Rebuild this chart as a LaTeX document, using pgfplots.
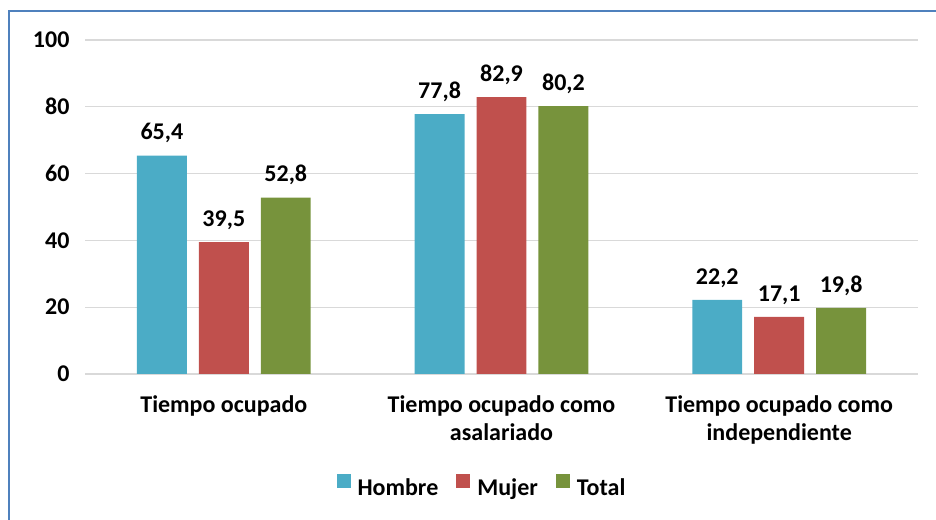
\documentclass[border=0pt]{standalone}
\usepackage{fontspec}
\setmainfont{Carlito}
\usepackage{pgfplots}
\pgfplotsset{compat=1.18}
\definecolor{hombre}{RGB}{75,172,198}
\definecolor{mujer}{RGB}{192,80,77}
\definecolor{total}{RGB}{119,147,60}
\definecolor{frameblue}{RGB}{79,129,189}
\definecolor{gridgray}{RGB}{217,217,217}
\newcommand\lbl{\fontsize{24}{28}\selectfont\bfseries}
\begin{document}
\begin{tikzpicture}[x=1pt,y=1pt]
\path[use as bounding box] (0,0) rectangle (936,519);
\draw[frameblue, line width=1.5pt] (9,-2) -- (9,508) -- (938,508);
\begin{axis}[
  at={(85pt,145pt)}, anchor=south west,
  scale only axis, width=833pt, height=334pt,
  xmin=-0.5, xmax=2.5, ymin=0, ymax=100,
  ytick={0,20,...,100},
  xtick={0,1,2},
  xticklabels={Tiempo ocupado, Tiempo ocupado como\\asalariado, Tiempo ocupado como\\independiente},
  xticklabel style={align=center, font=\lbl, yshift=-18pt},
  yticklabel style={font=\lbl, xshift=-12pt},
  /pgf/number format/assume math mode=true,
  ymajorgrids, grid style={gridgray, line width=1.2pt},
  axis line style={draw=none},
  major tick length=0pt,
  ybar, bar width=0.18,
  nodes near coords={\pgfmathprintnumber[fixed,fixed zerofill,precision=1,use comma]{\pgfplotspointmeta}},
  every node near coord/.append style={font=\lbl, text=black, yshift=9pt},
  legend columns=3,
  legend style={at={(0.4766,-0.338)}, anchor=center, draw=none, font=\lbl,
    /tikz/every even column/.append style={column sep=16pt}},
  legend image code/.code={\fill[#1] (0pt,0pt) rectangle (14pt,14pt);},
]
\addplot[fill=hombre, draw=none, bar shift=-0.223] coordinates {(0,65.4) (1,77.8) (2,22.2)};
\addplot[fill=mujer, draw=none, bar shift=0] coordinates {(0,39.5) (1,82.9) (2,17.1)};
\addplot[fill=total, draw=none, bar shift=0.223] coordinates {(0,52.8) (1,80.2) (2,19.8)};
\legend{\hspace{5pt}Hombre, \hspace{5pt}Mujer, \hspace{5pt}Total}
\end{axis}
\end{tikzpicture}
\end{document}
